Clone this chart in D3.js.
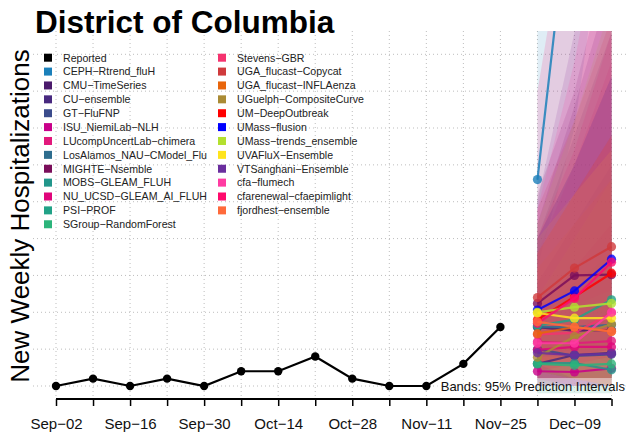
<!DOCTYPE html>
<html>
<head>
<meta charset="utf-8">
<script src="https://cdn.jsdelivr.net/npm/d3@7"></script>
<style>
  body { margin: 0; background: #fff; }
  svg { display: block; font-family: "Liberation Sans", Arial, sans-serif; }
</style>
</head>
<body>
<div id="chart"></div>
<script>

// weekly reported hospitalizations
var weeks = ["2023-09-02","2023-09-09","2023-09-16","2023-09-23","2023-09-30","2023-10-07",
             "2023-10-14","2023-10-21","2023-10-28","2023-11-04","2023-11-11","2023-11-18","2023-11-25"];
var reported = [0, 1, 0, 1, 0, 2, 2, 4, 1, 0, 0, 3, 8];

// forecast horizons
var horizons = ["2023-12-02","2023-12-09","2023-12-16"];

var models = ["CEPH\u2212Rtrend_fluH","CMU\u2212TimeSeries","CU\u2212ensemble","GT\u2212FluFNP",
  "ISU_NiemiLab\u2212NLH","LUcompUncertLab\u2212chimera","LosAlamos_NAU\u2212CModel_Flu","MIGHTE\u2212Nsemble",
  "MOBS\u2212GLEAM_FLUH","NU_UCSD\u2212GLEAM_AI_FLUH","PSI\u2212PROF","SGroup\u2212RandomForest",
  "Stevens\u2212GBR","UGA_flucast\u2212Copycat","UGA_flucast\u2212INFLAenza","UGuelph\u2212CompositeCurve",
  "UM\u2212DeepOutbreak","UMass\u2212flusion","UMass\u2212trends_ensemble","UVAFluX\u2212Ensemble",
  "VTSanghani\u2212Ensemble","cfa\u2212flumech","cfarenewal\u2212cfaepimlight","fjordhest\u2212ensemble"];

var modelColors = ["#1b80ba","#4b1a6c","#48297f","#3b4c8c","#c9008a","#e2197c","#2e6d8e","#7a0e5a",
  "#22968b","#e0057b","#21a287","#2cb47b","#f5336f","#cf3a3c","#e8650b","#aa8b35",
  "#ff0000","#0000ff","#b3e02f","#ffe41c","#6a2e9e","#ff3ba2","#ff0a6c","#ff6a3b"];

// medians per model, one value per horizon
var median = [
  [28, 72, 150], [8, 7.5, 7.6], [3, 4.2, 4.5], [5, 4.1, 4.3],
  [2, 1.9, 2.4], [6, 5.8, 6.1], [8, 8, 8.3], [11.2, 15, 15.1],
  [3.1, 3.1, 2.2], [4.9, 5.3, 5.3], [8.2, 9, 11.7], [3, 2.8, 3],
  [7, 7.2, 9.9], [12, 16, 18.9], [7.1, 8, 7.4], [3.9, 6.7, 8.4],
  [9, 12.1, 15.3], [10.3, 12.9, 17.2], [10, 10.7, 11.2], [9.9, 9.2, 9.2],
  [4.5, 4.2, 4.4], [5.8, 5.8, 10], [8.5, 11.9, 16.8], [8.7, 8, 7.4]
];

// 95% prediction intervals
var lower95 = [
  [16, 35, 70], [2, 1, 0], [0, 0, 0], [1, 0, 0],
  [0, 0, 0], [1, 0, 0], [2, 1, 1], [4, 5, 3],
  [-1, -1, -1], [0, 0, 0], [2, 1, 1], [-1, -1, -1],
  [1, 1, 0], [4, 5, 5], [1, 1, 0], [0, 1, 1],
  [3, 4, 5], [4, 4, 5], [2, 1, 0], [3, 1, 0],
  [0, 0, 0], [1, 0, 1], [2, 3, 4], [2, 1, 0]
];
var upper95 = [
  [60, 160, 330], [22, 38, 55], [20, 34, 48], [14, 22, 30],
  [10, 16, 22], [18, 30, 44], [18, 26, 34], [26, 40, 60],
  [10, 14, 18], [20, 32, 48], [20, 30, 42], [9, 11, 13],
  [20, 30, 42], [24, 36, 50], [16, 22, 28], [12, 20, 28],
  [18, 26, 34], [20, 30, 42], [22, 36, 52], [20, 26, 32],
  [25, 48, 70], [24, 44, 70], [40, 70, 110], [18, 26, 34]
];

var yTicks = [0, 5, 10, 15, 20, 25, 30, 35, 40, 45];

var width = 629;
var height = 438;
var plot = {left: 33, right: 629, top: 31, bottom: 399};

var parse = d3.utcParse("%Y-%m-%d");

var svg = d3.select("#chart")
  .append("svg")
  .attr("width", width)
  .attr("height", height);

var x = d3.scaleUtc()
  .domain([parse("2023-09-02"), parse("2023-12-16")])
  .range([56, 611.5]);

var y = d3.scaleLinear()
  .domain([0, 45])
  .range([386, 54.3]);

svg.append("clipPath")
  .attr("id", "clip")
  .append("rect")
  .attr("x", plot.left)
  .attr("y", plot.top)
  .attr("width", plot.right - plot.left)
  .attr("height", plot.bottom - plot.top);

// grid
var allWeeks = d3.utcDay.range(parse("2023-09-02"), parse("2023-12-17"), 7);

svg.append("g")
  .selectAll("line")
  .data(yTicks)
  .enter()
  .append("line")
  .attr("x1", plot.left)
  .attr("x2", plot.right)
  .attr("y1", function(d){ return y(d); })
  .attr("y2", function(d){ return y(d); })
  .attr("stroke", "#bdbdbd")
  .attr("stroke-dasharray", "1,3");

svg.append("g")
  .selectAll("line")
  .data(allWeeks)
  .enter()
  .append("line")
  .attr("x1", function(d){ return x(d); })
  .attr("x2", function(d){ return x(d); })
  .attr("y1", plot.top)
  .attr("y2", 397)
  .attr("stroke", "#bdbdbd")
  .attr("stroke-dasharray", "1,3");

var fc = svg.append("g").attr("clip-path", "url(#clip)");

var hx = horizons.map(function(d){ return x(parse(d)); });

var band = d3.area()
  .x(function(d, i){ return hx[i]; })
  .y0(function(d){ return y(d[0]); })
  .y1(function(d){ return y(d[1]); });

models.forEach(function(m, k){
  var pts = lower95[k].map(function(lo, i){ return [lo, upper95[k][i]]; });
  fc.append("path")
    .attr("d", band(pts))
    .attr("fill", modelColors[k])
    .attr("fill-opacity", 0.14);
});

// box behind the band note
svg.append("rect")
  .attr("x", 436)
  .attr("y", 378)
  .attr("width", 193)
  .attr("height", 17)
  .attr("fill", "#fff")
  .attr("fill-opacity", 0.45);

var line = d3.line()
  .x(function(d, i){ return hx[i]; })
  .y(function(d){ return y(d); });

models.forEach(function(m, k){
  fc.append("path")
    .attr("d", line(median[k]))
    .attr("fill", "none")
    .attr("stroke", modelColors[k])
    .attr("stroke-width", 2.2)
    .attr("stroke-opacity", 0.85);

  fc.selectAll(".p" + k)
    .data(median[k])
    .enter()
    .append("circle")
    .attr("cx", function(d, i){ return hx[i]; })
    .attr("cy", function(d){ return y(d); })
    .attr("r", 4.6)
    .attr("fill", modelColors[k])
    .attr("fill-opacity", 0.8);
});

// reported
var rline = d3.line()
  .x(function(d, i){ return x(parse(weeks[i])); })
  .y(function(d){ return y(d); });

svg.append("path")
  .attr("d", rline(reported))
  .attr("fill", "none")
  .attr("stroke", "#000")
  .attr("stroke-width", 2.2);

svg.selectAll(".rep")
  .data(reported)
  .enter()
  .append("circle")
  .attr("cx", function(d, i){ return x(parse(weeks[i])); })
  .attr("cy", function(d){ return y(d); })
  .attr("r", 4.2)
  .attr("fill", "#000");

// x axis, labels every other week
var xAxis = d3.axisBottom(x)
  .tickValues(allWeeks)
  .tickSize(7)
  .tickFormat(function(d, i){
    return i % 2 == 0 ? d3.utcFormat("%b")(d) + "\u2212" + d3.utcFormat("%d")(d) : "";
  });

var gx = svg.append("g")
  .attr("transform", "translate(0,399)")
  .call(xAxis);

gx.select(".domain")
  .attr("d", "M" + x(parse("2023-09-02")) + ",0H" + x(parse("2023-12-16")))
  .attr("stroke-width", 2);
gx.selectAll(".tick line").attr("stroke-width", 1.5);
gx.selectAll("text")
  .attr("font-size", 15)
  .attr("font-family", "Liberation Sans, Arial, sans-serif")
  .attr("fill", "#111")
  .attr("dy", "1.3em");

// titles
svg.append("text")
  .attr("x", 35)
  .attr("y", 33)
  .attr("font-size", 31.5)
  .attr("font-weight", "bold")
  .attr("fill", "#000")
  .text("District of Columbia");

svg.append("text")
  .attr("transform", "translate(29,216) rotate(-90)")
  .attr("text-anchor", "middle")
  .attr("font-size", 26)
  .attr("fill", "#000")
  .text("New Weekly Hospitalizations");

svg.append("text")
  .attr("x", 625)
  .attr("y", 391)
  .attr("text-anchor", "end")
  .attr("font-size", 13)
  .attr("fill", "#111")
  .text("Bands: 95% Prediction Intervals");

// legend
var legNames = ["Reported"].concat(models);
var legColors = ["#000"].concat(modelColors);

var leg = svg.append("g");
legNames.forEach(function(n, i){
  var col = i < 13 ? 0 : 1;
  var row = i < 13 ? i : i - 13;
  var lx = col == 0 ? 44 : 218;
  var ly = 57.7 + row * 13.88;
  leg.append("rect")
    .attr("x", lx)
    .attr("y", ly - 4)
    .attr("width", 8)
    .attr("height", 8)
    .attr("fill", legColors[i]);
  leg.append("text")
    .attr("x", lx + 19)
    .attr("y", ly + 3.8)
    .attr("font-size", 10.6)
    .attr("fill", "#222")
    .text(n);
});

</script>
</body>
</html>
